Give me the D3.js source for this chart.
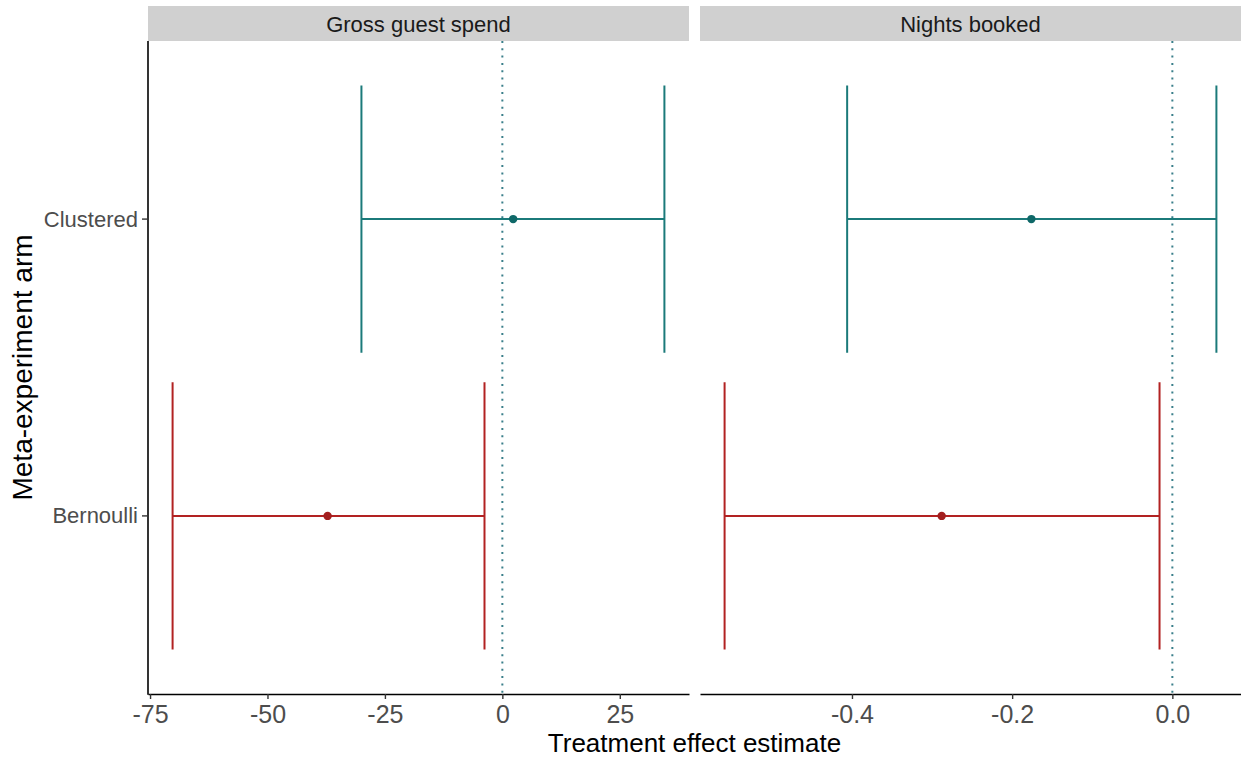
<!DOCTYPE html>
<html>
<head>
<meta charset="utf-8">
<script src="https://cdn.jsdelivr.net/npm/d3@7"></script>
<style>
  body { margin: 0; background: #fff; }
  svg { display: block; font-family: "Liberation Sans", Arial, Helvetica, sans-serif; }
</style>
</head>
<body>
<svg id="chart" width="1241" height="758"></svg>
<script>
// ---- data ----
const facets = ["Gross guest spend", "Nights booked"];
const arms = ["Bernoulli", "Clustered"];
const armColors = ["#b22222", "#1b7a7a"];
const pointColors = ["#a31f1f", "#0f6868"];
// estimates per facet, ordered as arms
const grossEstimate = [-37.2, 2.3];
const grossLower = [-70.2, -30.0];
const grossUpper = [-3.8, 34.5];
const nightsEstimate = [-0.288, -0.176];
const nightsLower = [-0.559, -0.406];
const nightsUpper = [-0.016, 0.055];
const grossTicks = [-75, -50, -25, 0, 25];
const nightsTicks = [-0.4, -0.2, 0.0];
const grossTickLabels = ["-75", "-50", "-25", "0", "25"];
const nightsTickLabels = ["-0.4", "-0.2", "0.0"];

const panelData = [
  { name: facets[0], est: grossEstimate, lo: grossLower, hi: grossUpper, ticks: grossTicks, labels: grossTickLabels },
  { name: facets[1], est: nightsEstimate, lo: nightsLower, hi: nightsUpper, ticks: nightsTicks, labels: nightsTickLabels }
];

// ---- layout ----
const svg = d3.select("#chart");
const panelTop = 41, panelBottom = 694;
const stripTop = 6;
const panelX = [[148, 689], [700, 1241]];

// discrete y scale with ggplot-like expansion (0.6 units each side)
const yLin = d3.scaleLinear().domain([0.4, arms.length + 0.6]).range([panelBottom, panelTop]);
const yPos = a => yLin(arms.indexOf(a) + 1);
const unit = Math.abs(yLin(1) - yLin(0));
const capHalf = 0.45 * unit;

panelData.forEach((p, pi) => {
  const [x0, x1] = panelX[pi];
  const lo = d3.min(p.lo), hi = d3.max(p.hi);
  const pad = (hi - lo) * 0.05;
  const x = d3.scaleLinear().domain([lo - pad, hi + pad]).range([x0, x1]);
  const g = svg.append("g");

  // strip
  g.append("rect").attr("x", x0).attr("y", stripTop).attr("width", x1 - x0).attr("height", panelTop - stripTop)
    .attr("fill", "#d0d0d0");
  g.append("text").attr("x", (x0 + x1) / 2).attr("y", 32).attr("text-anchor", "middle")
    .attr("font-size", 22).attr("fill", "#1a1a1a").text(p.name);

  // reference line at 0
  g.append("line").attr("x1", x(0)).attr("x2", x(0)).attr("y1", panelTop).attr("y2", panelBottom)
    .attr("stroke", "#3a7f8a").attr("stroke-width", 2).attr("stroke-dasharray", "2,5.3");

  // error bars
  arms.forEach((a, ai) => {
    const y = yPos(a);
    const c = armColors[ai];
    g.append("line").attr("x1", x(p.lo[ai])).attr("x2", x(p.hi[ai])).attr("y1", y).attr("y2", y)
      .attr("stroke", c).attr("stroke-width", 2);
    [p.lo[ai], p.hi[ai]].forEach(v => {
      g.append("line").attr("x1", x(v)).attr("x2", x(v)).attr("y1", y - capHalf).attr("y2", y + capHalf)
        .attr("stroke", c).attr("stroke-width", 2);
    });
    g.append("circle").attr("cx", x(p.est[ai])).attr("cy", y).attr("r", 4.2).attr("fill", pointColors[ai]);
  });

  // x axis
  const axis = d3.axisBottom(x).tickValues(p.ticks).tickFormat((d, i) => p.labels[i]).tickSize(5).tickSizeOuter(0);
  const ax = g.append("g").attr("transform", `translate(0,${panelBottom})`).call(axis);
  ax.select(".domain").attr("stroke", "#000").attr("stroke-width", 1.6);
  ax.selectAll(".tick line").attr("stroke", "#333").attr("stroke-width", 1.4);
  ax.selectAll(".tick text").attr("font-size", 25).attr("fill", "#4d4d4d").attr("dy", null).attr("y", 29)
    .attr("font-family", "'Liberation Sans', Arial, sans-serif");
});

// y axis (left panel only)
const yAxisG = svg.append("g").attr("transform", `translate(${panelX[0][0]},0)`);
yAxisG.append("line").attr("x1", 0).attr("x2", 0).attr("y1", panelTop).attr("y2", panelBottom + 0.8)
  .attr("stroke", "#000").attr("stroke-width", 1.6);
arms.forEach(a => {
  const y = yPos(a);
  yAxisG.append("line").attr("x1", -6).attr("x2", 0).attr("y1", y).attr("y2", y).attr("stroke", "#333").attr("stroke-width", 1.4);
  yAxisG.append("text").attr("x", -10).attr("y", y + 7.5).attr("text-anchor", "end")
    .attr("font-size", 22).attr("fill", "#4d4d4d").text(a);
});

// axis titles
svg.append("text").attr("x", (panelX[0][0] + panelX[1][1]) / 2).attr("y", 752).attr("text-anchor", "middle")
  .attr("font-size", 26).attr("fill", "#000").text("Treatment effect estimate");
svg.append("text").attr("transform", `translate(32,${(panelTop + panelBottom) / 2}) rotate(-90)`)
  .attr("text-anchor", "middle").attr("font-size", 28).attr("fill", "#000").text("Meta-experiment arm");
</script>
</body>
</html>
